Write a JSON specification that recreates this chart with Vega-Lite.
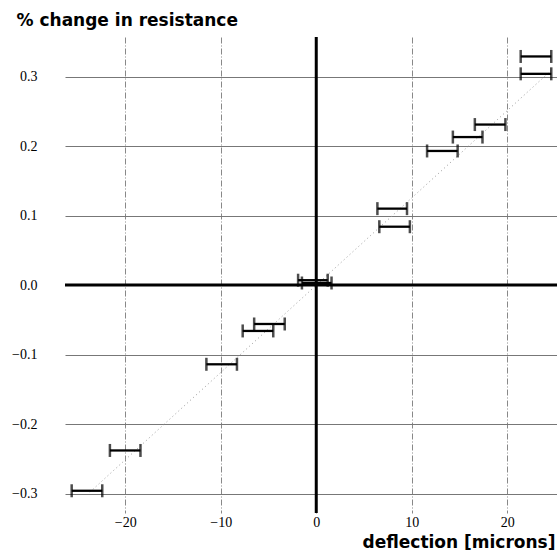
{
  "$schema": "https://vega.github.io/schema/vega-lite/v6.json",
  "width": 492,
  "height": 476,
  "autosize": "none",
  "padding": {"left": 65, "top": 37, "right": 0, "bottom": 40},
  "background": "white",
  "config": {"view": {"stroke": null}},
  "datasets": {
    "bars": [
      {"y": 0.329, "xmin": 21.4, "xmax": 24.6},
      {"y": 0.304, "xmin": 21.4, "xmax": 24.6},
      {"y": 0.231, "xmin": 16.6, "xmax": 19.8},
      {"y": 0.213, "xmin": 14.3, "xmax": 17.4},
      {"y": 0.193, "xmin": 11.6, "xmax": 14.8},
      {"y": 0.110, "xmin": 6.4, "xmax": 9.5},
      {"y": 0.084, "xmin": 6.6, "xmax": 9.8},
      {"y": 0.007, "xmin": -1.9, "xmax": 1.2},
      {"y": 0.003, "xmin": -1.5, "xmax": 1.6},
      {"y": -0.056, "xmin": -6.5, "xmax": -3.3},
      {"y": -0.066, "xmin": -7.7, "xmax": -4.5},
      {"y": -0.114, "xmin": -11.5, "xmax": -8.3},
      {"y": -0.238, "xmin": -21.6, "xmax": -18.4},
      {"y": -0.296, "xmin": -25.6, "xmax": -22.4}
    ],
    "fit": [
      {"x": -23.7, "y": -0.298},
      {"x": 24.6, "y": 0.309}
    ],
    "zero": [{"v": 0}]
  },
  "layer": [
    {
      "data": {"name": "fit"},
      "mark": {"type": "line", "color": "#999999", "strokeWidth": 1, "strokeDash": [1, 3]},
      "encoding": {
        "x": {
          "field": "x", "type": "quantitative",
          "scale": {"domain": [-26.3, 25.2], "nice": false, "zero": false},
          "axis": {
            "values": [-20, -10, 0, 10, 20],
            "title": "deflection [microns]",
            "grid": true, "gridColor": "#888888", "gridDash": [6, 2, 1, 2], "gridWidth": 1,
            "domain": false, "ticks": false,
            "labelPadding": 2, "labelDx": -8,
            "labelFont": "Liberation Serif, Times New Roman, serif", "labelFontSize": 14, "labelColor": "black",
            "titleFont": "DejaVu Sans", "titleFontWeight": "bold", "titleFontSize": 17, "titleColor": "black",
            "titleX": 490, "titleY": 34, "titleAlign": "right", "titleBaseline": "alphabetic", "titleAnchor": null
          }
        },
        "y": {
          "field": "y", "type": "quantitative",
          "scale": {"domain": [-0.328, 0.357], "nice": false, "zero": false},
          "axis": {
            "values": [-0.3, -0.2, -0.1, 0, 0.1, 0.2, 0.3],
            "format": ".1f",
            "title": "% change in resistance",
            "grid": true, "gridColor": "#777777", "gridWidth": 1,
            "domain": false, "ticks": false,
            "labelPadding": 28, "labelDy": -3,
            "labelFont": "Liberation Serif, Times New Roman, serif", "labelFontSize": 14, "labelColor": "black",
            "titleFont": "DejaVu Sans", "titleFontWeight": "bold", "titleFontSize": 17, "titleColor": "black",
            "titleAngle": 0, "titleX": -49, "titleY": -12, "titleAlign": "left", "titleBaseline": "alphabetic", "titleAnchor": null
          }
        }
      }
    },
    {
      "data": {"name": "zero"},
      "mark": {"type": "rule", "color": "black", "strokeWidth": 3},
      "encoding": {"y": {"field": "v", "type": "quantitative"}}
    },
    {
      "data": {"name": "zero"},
      "mark": {"type": "rule", "color": "black", "strokeWidth": 3},
      "encoding": {"x": {"field": "v", "type": "quantitative"}}
    },
    {
      "data": {"name": "bars"},
      "mark": {"type": "rule", "color": "black", "strokeWidth": 2.3},
      "encoding": {
        "x": {"field": "xmin", "type": "quantitative"},
        "x2": {"field": "xmax"},
        "y": {"field": "y", "type": "quantitative"}
      }
    },
    {
      "data": {"name": "bars"},
      "mark": {"type": "tick", "orient": "vertical", "color": "black", "thickness": 2.5, "size": 13},
      "encoding": {
        "x": {"field": "xmin", "type": "quantitative"},
        "y": {"field": "y", "type": "quantitative"}
      }
    },
    {
      "data": {"name": "bars"},
      "mark": {"type": "tick", "orient": "vertical", "color": "black", "thickness": 2.5, "size": 13},
      "encoding": {
        "x": {"field": "xmax", "type": "quantitative"},
        "y": {"field": "y", "type": "quantitative"}
      }
    }
  ]
}
